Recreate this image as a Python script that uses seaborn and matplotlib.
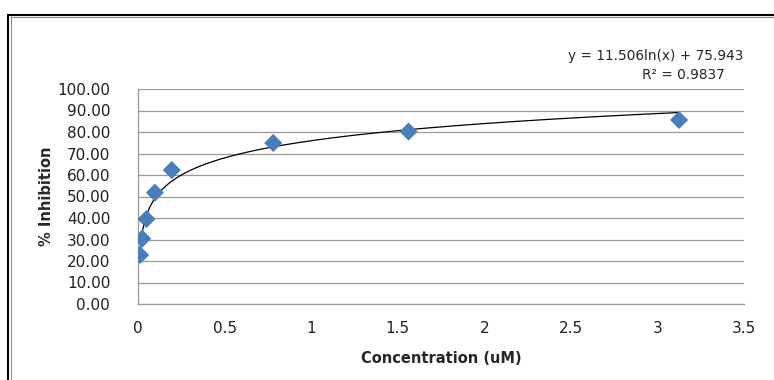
import numpy as np
import pandas as pd
import seaborn as sns
import matplotlib
matplotlib.use("Agg")
import matplotlib.pyplot as plt
import matplotlib.ticker as ticker
from matplotlib.lines import Line2D

# data
concentration = [0.0122, 0.0244, 0.0488, 0.0977, 0.195, 0.781, 1.5625, 3.125]
inhibition = [22.8, 30.4, 39.5, 51.8, 62.3, 74.9, 80.2, 85.6]

# log trendline coefficients shown on the chart
fit_slope = 11.506
fit_intercept = 75.943
fit_r2 = 0.9837

x_ticks = [0, 0.5, 1, 1.5, 2, 2.5, 3, 3.5]
y_ticks = [0, 10, 20, 30, 40, 50, 60, 70, 80, 90, 100]

df = pd.DataFrame({"conc": concentration, "inh": inhibition})

sns.set_theme(style="white")
plt.rcParams["font.family"] = ["DejaVu Sans"]

W, H = 774, 380
fig = plt.figure(figsize=(W / 100, H / 100), dpi=100)
ax = fig.add_axes([138 / W, 76 / H, 606 / W, 215 / H])

# trendline
xs = np.linspace(min(concentration), max(concentration), 400)
ax.plot(xs, fit_slope * np.log(xs) + fit_intercept, color="black", lw=0.9, zorder=3)

sns.scatterplot(data=df, x="conc", y="inh", marker="D", s=85, color="#4A7EBB",
                edgecolor="none", ax=ax, zorder=4)

ax.set_xlim(0, 3.5)
ax.set_ylim(0, 100)
ax.set_xticks(x_ticks)
ax.set_yticks(y_ticks)
ax.xaxis.set_major_formatter(ticker.FuncFormatter(lambda v, p: f"{v:g}"))
ax.yaxis.set_major_formatter(ticker.FormatStrFormatter("%.2f"))
ax.tick_params(axis="both", length=0, labelsize=11, colors="#202020")
ax.tick_params(axis="x", pad=12)
ax.tick_params(axis="y", pad=20)

ax.grid(True, axis="y", color="#999999", lw=0.9)
ax.grid(False, axis="x")
ax.set_axisbelow(True)
for s in ["top", "right"]:
    ax.spines[s].set_visible(False)
for s in ["left", "bottom"]:
    ax.spines[s].set_color("#999999")
    ax.spines[s].set_linewidth(0.9)

ax.set_xlabel("Concentration (uM)", fontsize=10.5, fontweight="bold", labelpad=11)
ax.set_ylabel("% Inhibition", fontsize=10.5, fontweight="bold", labelpad=2)

fig.text(743 / W, 1 - 56 / H, f"y = {fit_slope}ln(x) + {fit_intercept}",
         ha="right", va="center", fontsize=9.8)
fig.text(683 / W, 1 - 75 / H, f"R² = {fit_r2}", ha="center", va="center", fontsize=9.8)

# outer frame: black line with thin gray line inside, on left and top
def frame_line(xd, yd, color, lw):
    fig.add_artist(Line2D([v / W for v in xd], [1 - v / H for v in yd],
                          color=color, lw=lw, transform=fig.transFigure,
                          solid_capstyle="butt"))

frame_line([8, 8], [14, H], "black", 1.5)
frame_line([7, W], [15, 15], "black", 1.5)
frame_line([10.5, 10.5], [16, H], "#8C8C8C", 0.8)
frame_line([10, W], [16.7, 16.7], "#8C8C8C", 0.8)

fig.savefig("out.png", dpi=100)
